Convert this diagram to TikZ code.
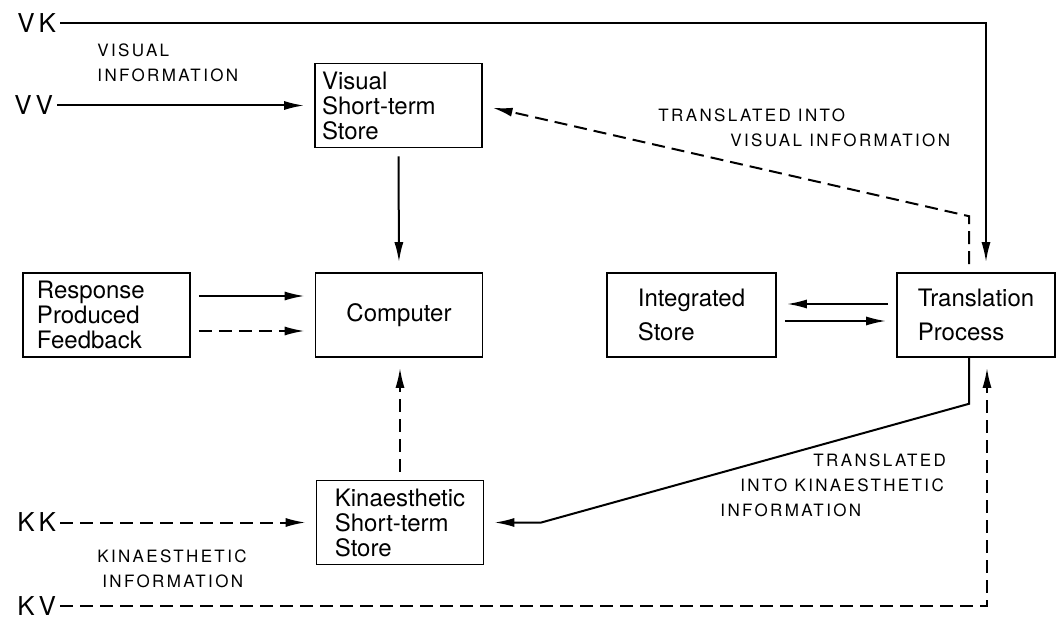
\documentclass[tikz,border=0pt]{standalone}
\usepackage{fontspec}
\setmainfont{TeX Gyre Heros}
\usetikzlibrary{arrows.meta,positioning}

\tikzset{
  store/.style={draw, line width=.8pt, minimum width=83.5pt, minimum height=42pt, align=left, font=\fontsize{12}{12.5}\selectfont},
  flow/.style={line width=1pt, shorten <=4pt, shorten >=5pt, -{Latex[length=10pt,width=4.5pt]}},
  dflow/.style={flow, dash pattern=on 6.5pt off 3.5pt},
  caplabel/.style={font=\fontsize{8.5}{12.5}\selectfont\addfontfeature{LetterSpace=14}, align=left, inner sep=0pt, anchor=west},
  chan/.style={font=\fontsize{13}{13}\selectfont\addfontfeature{LetterSpace=15}, inner xsep=2pt, inner ysep=0pt, anchor=west}
}

\begin{document}
\begin{tikzpicture}[x=0.5pt, y=-0.5pt]
\useasboundingbox (0,0) rectangle (1057,626);

\node[store, text width=76.5pt, inner xsep=3.5pt] (vsts) at (398.5,105.5) {Visual\\Short-term\\Store};
\node[store] (comp) at (399,315) {Computer};
\node[store, text width=69.5pt, inner xsep=7pt] (resp) at (106.5,315) {Response\\Produced\\Feedback};
\node[store, minimum width=84.5pt] (integ) at (691.5,315) {Integrated\\[4.5pt]Store};
\node[store, minimum width=79pt] (trans) at (976,315) {Translation\\[4.5pt]Process};
\node[store] (ksts) at (400,522.5) {Kinaesthetic\\Short-term\\Store};

\node[chan] (vk) at (13,23) {VK};
\node[chan] (vv) at (10,105.5) {VV};
\node[chan] (kk) at (13,522.5) {KK};
\node[chan] (kv) at (13,606) {KV};

\node[caplabel] (vinfo) at (97,62.5) {VISUAL\\INFORMATION};
\node[caplabel] (kinfo) at (97,568.5) {KINAESTHETIC\\\hspace{2.5pt}INFORMATION};
\node[caplabel] (tovis) at (658,127.5) {TRANSLATED INTO\\\hspace{36pt}VISUAL INFORMATION};
\node[caplabel] (tokin) at (720,485.5) {\hspace{46.5pt}TRANSLATED\\\hspace{10pt}INTO KINAESTHETIC\\INFORMATION};

% inputs
\draw[flow, shorten <=0pt] (vk.east) -| ([xshift=5pt]trans.north);
\draw[flow, shorten <=0pt] (vv.east) -- (vsts.west);
\draw[dflow, shorten <=0pt] (kk.east) -- (ksts.west);
\draw[dflow, shorten <=0pt] (kv.east) -| ([xshift=5.5pt]trans.south);

\draw[flow] (vsts.south) -- (comp.north);
\draw[dflow] (ksts.north) -- (ksts.north |- comp.south);
\draw[flow] ([yshift=9.5pt]resp.east) -- ([yshift=9.5pt]comp.west);
\draw[dflow] ([yshift=-8pt]resp.east) -- ([yshift=-8pt]comp.west);
\draw[flow] ([yshift=5.5pt]trans.west) -- ([yshift=5.5pt]integ.east);
\draw[flow] ([yshift=-3pt]integ.east) -- ([yshift=-3pt]trans.west);

% translated back
\draw[dflow] ([xshift=-3.5pt]trans.north) -- ++(0,-56) -- (vsts.east);
\draw[flow, shorten <=0pt] ([xshift=-3.5pt]trans.south) -- ++(0,46) -- ([xshift=28.5pt]ksts.east) -- (ksts.east);

\end{tikzpicture}
\end{document}
